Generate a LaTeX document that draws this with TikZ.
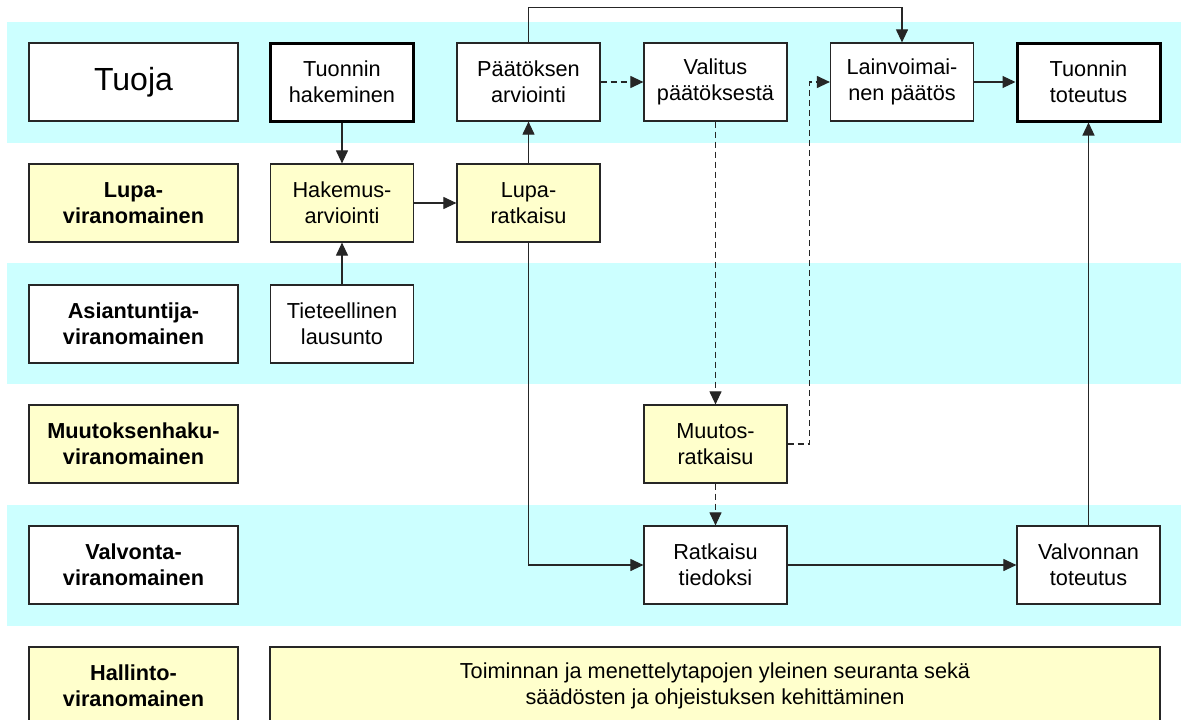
\documentclass[tikz,border=0pt]{standalone}
\usepackage{fontspec}
\setmainfont{Liberation Sans}
\usetikzlibrary{arrows.meta}
\definecolor{bandcyan}{HTML}{CCFFFF}
\definecolor{boxyellow}{HTML}{FFFFCC}
\begin{document}
\begin{tikzpicture}[x=1pt,y=-1pt,
  box/.style={draw=black!85, line width=1.2pt, minimum width=143pt, minimum height=78pt, inner sep=0pt, align=center, font=\fontsize{21.7}{26.3}\selectfont, fill=white},
  lbl/.style={box, minimum width=209pt, font=\fontsize{21.7}{26.3}\selectfont\bfseries},
  yel/.style={fill=boxyellow},
  thickbox/.style={line width=3pt, draw=black},
  conn/.style={line width=1.1pt, draw=black!85, -{Triangle[length=13pt,width=12pt]}},
  dconn/.style={conn, dash pattern=on 6pt off 4pt},
]
\useasboundingbox (0,0) rectangle (1181,720);
\fill[white] (0,0) rectangle (1181,720);
\fill[bandcyan] (7,22) rectangle (1181,143);
\fill[bandcyan] (7,263) rectangle (1181,384);
\fill[bandcyan] (7,505) rectangle (1181,626);

\node[lbl, font=\fontsize{32}{38}\selectfont] (tuoja) at (133.5,82) {Tuoja};
\node[box, thickbox] (hak) at (342,82) {Tuonnin\\hakeminen};
\node[box] (paat) at (528.5,82) {Päätöksen\\arviointi};
\node[box] (val) at (715.5,82) {Valitus\\päätöksestä};
\node[box] (lain) at (902,82) {Lainvoimai-\\nen päätös};
\node[box, thickbox] (tot) at (1088.5,82) {Tuonnin\\toteutus};

\node[lbl, yel] (lupa) at (133.5,203) {Lupa-\\viranomainen};
\node[box, yel] (hakarv) at (342,203) {Hakemus-\\arviointi};
\node[box, yel] (luparat) at (528.5,203) {Lupa-\\ratkaisu};

\node[lbl] (asi) at (133.5,324) {Asiantuntija-\\viranomainen};
\node[box] (tiet) at (342,324) {Tieteellinen\\lausunto};

\node[lbl, yel] (muut) at (133.5,444) {Muutoksenhaku-\\viranomainen};
\node[box, yel] (muutrat) at (715.5,444) {Muutos-\\ratkaisu};

\node[lbl] (valv) at (133.5,565) {Valvonta-\\viranomainen};
\node[box] (ratk) at (715.5,565) {Ratkaisu\\tiedoksi};
\node[box] (valvtot) at (1088.5,565) {Valvonnan\\toteutus};

\node[lbl, yel] (hall) at (133.5,686) {Hallinto-\\viranomainen};
\node[box, yel, minimum width=890pt] (seur) at (715,686) {Toiminnan ja menettelytapojen yleinen seuranta sekä\\säädösten ja ohjeistuksen kehittäminen};

\draw[conn] (hak) -- (hakarv);
\draw[conn] (tiet) -- (hakarv);
\draw[conn] (hakarv) -- (luparat);
\draw[conn] (luparat) -- (paat);
\draw[dconn] (paat) -- (val);
\draw[conn] (paat.north) -- ++(0,-35) -| (lain.north);
\draw[conn] (lain) -- (tot);
\draw[dconn] (val) -- (muutrat);
\draw[dconn] (muutrat.east) -- ++(22,0) |- (lain.west);
\draw[dconn] (muutrat) -- (ratk);
\draw[conn] (luparat.south) |- (ratk.west);
\draw[conn] (ratk) -- (valvtot);
\draw[conn] (valvtot) -- (tot);
\end{tikzpicture}
\end{document}
